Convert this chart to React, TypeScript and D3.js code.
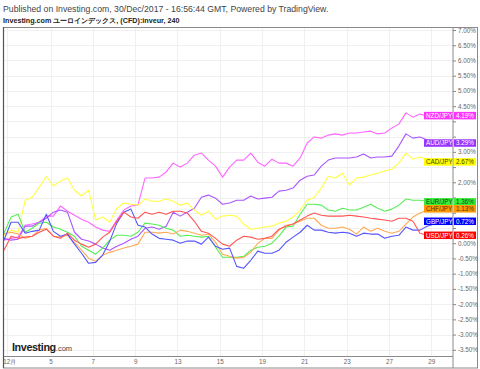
import * as d3 from "d3";
import { useRef, useEffect } from "react";

const WIDTH = 480;
const HEIGHT = 369;

const pairs = ["NZD/JPY", "AUD/JPY", "CAD/JPY", "EUR/JPY", "CHF/JPY", "GBP/JPY", "USD/JPY"];
const lineColors = ["#ff66ff", "#aa55ff", "#ffff44", "#55ee55", "#ffaa55", "#5555ff", "#ff5555"];
const tagColors = ["#ff33ff", "#9933ff", "#ffff00", "#33ee33", "#ff9900", "#0000ff", "#ff0000"];
const tagText = ["#ffffff", "#ffffff", "#444400", "#224422", "#553300", "#ffffff", "#ffffff"];

// % change, 4h bars sampled every 2nd bar
const nzd = [0.10, 0.16, 0.20, 0.59, 0.63, 0.69, 0.89, 0.89, 1.22, 1.05, 0.92, 0.79, 0.69, 0.53, 0.43, 0.39, 0.76, 1.09, 1.22, 1.25, 2.14, 2.14, 2.17, 2.34, 2.63, 2.50, 2.63, 2.89, 2.96, 2.73, 2.53, 2.17, 2.50, 2.73, 2.73, 2.96, 2.66, 2.53, 2.76, 2.63, 2.63, 2.53, 2.80, 3.29, 3.49, 3.45, 3.55, 3.59, 3.55, 3.62, 3.62, 3.65, 3.68, 3.59, 3.62, 3.78, 3.91, 4.28, 4.14, 4.24, 4.18, 4.21, 4.21, 4.19];
const aud = [0.16, 0.10, 0.13, 0.56, 0.56, 0.69, 0.82, 1.02, 1.09, 1.02, 0.36, 0.13, 0.07, -0.03, -0.16, -0.23, -0.10, 0.00, 0.13, 0.23, 0.49, 0.53, 0.46, 0.56, 1.02, 0.89, 1.02, 1.15, 1.51, 1.58, 1.48, 1.28, 1.32, 1.41, 1.41, 1.55, 1.45, 1.48, 1.51, 1.71, 1.74, 1.81, 2.07, 2.20, 2.24, 2.53, 2.73, 2.80, 2.80, 2.80, 2.83, 2.93, 2.80, 2.83, 2.83, 2.86, 3.19, 3.59, 3.45, 3.49, 3.39, 3.32, 3.29, 3.29];
const cad = [0.26, 0.43, 0.36, 1.41, 1.51, 1.84, 2.20, 1.88, 2.04, 2.14, 1.74, 1.55, 1.74, 0.76, 0.86, 0.69, 1.15, 1.32, 1.28, 1.25, 1.45, 1.38, 1.38, 1.45, 1.38, 1.25, 1.32, 1.09, 0.92, 1.05, 0.79, 0.89, 0.92, 0.89, 0.63, 0.46, 0.49, 0.53, 0.56, 0.66, 0.72, 0.86, 1.09, 1.41, 1.51, 1.81, 2.20, 2.14, 2.30, 1.91, 2.14, 2.17, 2.24, 2.30, 2.37, 2.43, 2.63, 2.96, 2.76, 2.83, 2.76, 2.70, 2.70, 2.67];
const eur = [0.33, 0.86, 0.95, 0.36, 0.49, 0.66, 0.69, 0.53, 0.46, 0.36, 0.23, -0.10, -0.23, -0.36, -0.16, 0.10, 0.26, 0.26, 0.23, 0.36, 0.66, 0.63, 0.59, 0.49, 0.43, 0.23, 0.26, 0.23, 0.20, 0.23, -0.13, -0.46, -0.46, -0.46, -0.43, -0.23, -0.13, -0.10, 0.00, 0.23, 0.53, 0.56, 0.95, 1.28, 1.28, 1.25, 1.09, 1.05, 1.15, 1.09, 1.09, 1.18, 1.28, 1.15, 1.05, 1.12, 1.25, 1.45, 1.41, 1.41, 1.38, 1.35, 1.35, 1.36];
const chf = [0.30, 0.36, 0.30, 0.16, 0.23, 0.43, 0.49, 0.23, 0.20, 0.26, 0.03, -0.23, -0.49, -0.59, -0.39, -0.30, -0.23, -0.16, -0.10, -0.03, 0.36, 0.36, 0.33, 0.36, 0.30, 0.43, 0.39, 0.33, 0.26, 0.30, 0.03, -0.36, -0.43, -0.49, -0.46, -0.30, 0.00, 0.16, 0.16, 0.43, 0.59, 0.63, 0.72, 0.82, 0.82, 0.59, 0.49, 0.49, 0.53, 0.46, 0.30, 0.53, 0.39, 0.49, 0.39, 0.33, 0.39, 0.63, 0.86, 0.99, 1.09, 1.12, 1.15, 1.13];
const gbp = [0.10, 0.69, 0.69, 0.33, 0.39, 0.43, 0.95, 0.39, 0.23, 0.30, -0.03, -0.33, -0.66, -0.63, -0.39, 0.07, 0.66, 1.02, 1.12, 0.59, 0.53, 0.30, 0.16, 0.13, 0.10, 0.00, 0.07, 0.07, -0.03, 0.20, -0.10, -0.20, -0.16, -0.76, -0.82, -0.56, -0.26, -0.33, -0.33, -0.23, 0.03, 0.20, 0.36, 0.59, 0.43, 0.43, 0.36, 0.33, 0.36, 0.33, 0.23, 0.33, 0.30, 0.30, 0.16, 0.23, 0.26, 0.53, 0.43, 0.43, 0.56, 0.63, 0.69, 0.72];
const usd = [-0.23, 0.23, 0.16, 0.20, 0.23, 0.36, 0.46, 0.23, 0.16, 0.33, 0.10, -0.03, -0.13, -0.03, 0.20, 0.36, 0.72, 1.02, 0.86, 0.82, 1.02, 0.95, 1.02, 0.95, 1.05, 1.05, 0.99, 0.72, 0.39, 0.33, 0.16, -0.03, -0.10, 0.10, 0.23, 0.20, 0.13, 0.16, 0.23, 0.46, 0.56, 0.63, 0.76, 0.89, 0.99, 0.92, 0.89, 0.89, 0.89, 0.92, 0.89, 0.86, 0.82, 0.79, 0.76, 0.72, 0.82, 0.82, 0.72, 0.33, 0.26, 0.26, 0.26, 0.26];

const series = [nzd, aud, cad, eur, chf, gbp, usd];

const xTickLabels = ["12月", "5", "7", "9", "13", "15", "19", "21", "23", "27", "29"];
const xTickAt = [0.4, 6.6, 12.6, 18.6, 24.6, 30.6, 36.6, 42.6, 48.6, 54.6, 60.6];
const yTicks = [7, 6.5, 6, 5.5, 5, 4.5, 4, 3.5, 3, 2.5, 2, 1.5, 1, 0.5, 0, -0.5, -1, -1.5, -2, -2.5, -3, -3.5];

const FONT = "Arial, 'Liberation Sans', sans-serif";

const App = () => {
  const svgRef = useRef<SVGSVGElement>(null);

  useEffect(() => {
    document.body.style.margin = "0";
    const left = 3, top = 27, right = 453, bottom = 356.5;

    const x = d3.scaleLinear().domain([0, 63]).range([4, 448.2]);
    const y = d3.scaleLinear().domain([-3.72, 7.1]).range([bottom, top]);

    const svg = d3.select(svgRef.current);
    svg.selectAll("*").remove();

    svg.append("rect").attr("width", WIDTH).attr("height", HEIGHT).attr("fill", "#fff");

    // titles
    svg.append("text").attr("x", 3).attr("y", 11.5)
      .attr("font-family", FONT).attr("font-size", 8.7).attr("fill", "#444")
      .text("Published on Investing.com, 30/Dec/2017 - 16:56:44 GMT, Powered by TradingView.");
    svg.append("text").attr("x", 3).attr("y", 23)
      .attr("font-family", FONT).attr("font-size", 7.2).attr("font-weight", "bold").attr("fill", "#222")
      .text("Investing.com ユーロインデックス, (CFD):inveur, 240");

    // grid
    const grid = svg.append("g").attr("stroke", "#f0f0f0").attr("stroke-width", 1);
    grid.selectAll(".h").data(yTicks).enter().append("line")
      .attr("x1", left).attr("x2", right)
      .attr("y1", (d) => Math.round(y(d)) + 0.5).attr("y2", (d) => Math.round(y(d)) + 0.5);
    grid.selectAll(".v").data(xTickAt).enter().append("line")
      .attr("y1", top).attr("y2", bottom)
      .attr("x1", (d) => Math.round(x(d)) + 0.5).attr("x2", (d) => Math.round(x(d)) + 0.5);

    // watermark
    const wm = svg.append("text").attr("x", 12).attr("y", 351).attr("font-family", FONT).attr("fill", "#222");
    wm.append("tspan").attr("font-size", 10.8).attr("font-weight", "bold").attr("letter-spacing", -0.4).text("Investing");
    wm.append("tspan").attr("font-size", 7.5).attr("fill", "#444").text(".com");

    // lines
    const line = d3.line<number>().x((_, i) => x(i)).y((d) => y(d));
    series.forEach((s, k) => {
      svg.append("path").datum(s)
        .attr("fill", "none").attr("stroke", lineColors[k]).attr("stroke-width", 1.1)
        .attr("stroke-linejoin", "round").attr("d", line);
    });

    // frames
    svg.append("rect").attr("x", left + 0.5).attr("y", top + 0.5)
      .attr("width", 478 - left - 1).attr("height", 368 - top - 0.5)
      .attr("fill", "none").attr("stroke", "#8a8a8a");
    svg.append("line").attr("x1", left).attr("x2", right).attr("y1", bottom).attr("y2", bottom).attr("stroke", "#8a8a8a");
    svg.append("line").attr("x1", right).attr("x2", right).attr("y1", top).attr("y2", 368).attr("stroke", "#8a8a8a");
    svg.append("line").attr("x1", left + 0.5).attr("x2", left + 0.5).attr("y1", top).attr("y2", 368).attr("stroke", "#555").attr("stroke-width", 1.2);

    // y axis (labels hidden behind a value tag are skipped)
    const tagY = series.map((s) => y(s[s.length - 1]));
    const visibleTicks = yTicks.filter((t) => tagY.every((ty) => Math.abs(y(t) - ty) >= 7));
    const yAxis = svg.append("g").attr("transform", `translate(${right},0)`)
      .call(d3.axisRight(y).tickValues(yTicks).tickSize(3).tickPadding(2)
        .tickFormat((d) => (visibleTicks.includes(+d) ? `${(+d).toFixed(2)}%` : "")));
    yAxis.select(".domain").remove();
    yAxis.selectAll("line").attr("stroke", "#888");
    yAxis.selectAll("text").attr("fill", "#666").attr("font-size", 6.3).attr("font-family", FONT);

    // x axis
    const xAxis = svg.append("g").attr("transform", `translate(0,${bottom})`)
      .call(d3.axisBottom(x).tickValues(xTickAt).tickSize(0).tickPadding(3).tickFormat((_, i) => xTickLabels[i]));
    xAxis.select(".domain").remove();
    xAxis.selectAll("text").attr("fill", "#666").attr("font-size", 6.3).attr("font-family", FONT);
    xAxis.select("text").attr("text-anchor", "start").attr("dx", -4);

    // last value tags
    const tagH = 7.5;
    series.forEach((s, k) => {
      const v = s[s.length - 1];
      const cy = y(v);
      const g = svg.append("g");
      g.append("rect").attr("x", 424).attr("y", cy - tagH / 2).attr("width", 28.5).attr("height", tagH).attr("fill", tagColors[k]);
      g.append("rect").attr("x", 454).attr("y", cy - tagH / 2).attr("width", 22).attr("height", tagH).attr("fill", tagColors[k]);
      g.append("text").attr("x", 426).attr("y", cy + 2.3).attr("font-family", FONT).attr("font-size", 6.3)
        .attr("fill", tagText[k]).text(pairs[k]);
      g.append("text").attr("x", 456).attr("y", cy + 2.3).attr("font-family", FONT).attr("font-size", 6.3)
        .attr("fill", tagText[k]).text(`${v.toFixed(2)}%`);
    });
  }, []);

  return <svg ref={svgRef} width={WIDTH} height={HEIGHT} style={{ display: "block" }} />;
};

export default App;
